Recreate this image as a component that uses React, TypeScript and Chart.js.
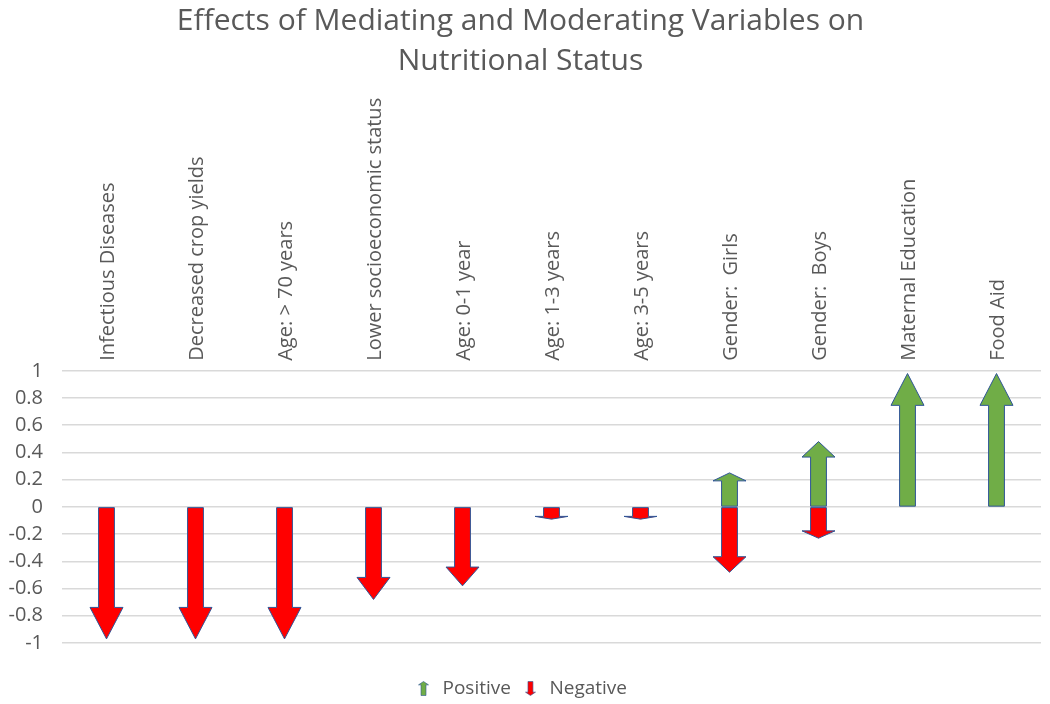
import React, { useEffect, useRef } from "react";
import { Chart, registerables } from "chart.js";

Chart.register(...registerables);

const categories = [
  "Infectious Diseases",
  "Decreased crop yields",
  "Age: > 70 years",
  "Lower socioeconomic status",
  "Age: 0-1 year",
  "Age: 1-3 years",
  "Age: 3-5 years",
  "Gender:  Girls",
  "Gender:  Boys",
  "Maternal Education",
  "Food Aid",
];

const positiveValues = [0, 0, 0, 0, 0, 0, 0, 0.25, 0.48, 0.98, 0.98];
const negativeValues = [-0.97, -0.97, -0.97, -0.68, -0.58, -0.09, -0.09, -0.48, -0.23, 0, 0];

const yTicks = { min: -1, max: 1, step: 0.2 };

const GREEN = "#70AD47";
const RED = "#FF0000";
const OUTLINE = "#2F5597";
const TEXT = "#595959";
const FONT = "'Open Sans', 'Noto Sans', sans-serif";

function arrowPath(ctx: CanvasRenderingContext2D, x: number, base: number, tip: number, shaft: number, headW: number) {
  const len = tip - base;
  const head = len * 0.24;
  const neck = tip - head;
  ctx.beginPath();
  ctx.moveTo(x - shaft / 2, base);
  ctx.lineTo(x + shaft / 2, base);
  ctx.lineTo(x + shaft / 2, neck);
  ctx.lineTo(x + headW / 2, neck);
  ctx.lineTo(x, tip);
  ctx.lineTo(x - headW / 2, neck);
  ctx.lineTo(x - shaft / 2, neck);
  ctx.closePath();
}

function makeIcon(color: string, up: boolean) {
  const c = document.createElement("canvas");
  c.width = 11;
  c.height = 15;
  const ctx = c.getContext("2d")!;
  ctx.fillStyle = color;
  ctx.strokeStyle = OUTLINE;
  ctx.lineWidth = 0.6;
  if (up) arrowPath(ctx, 5.5, 14.5, 0.5, 5, 10);
  else arrowPath(ctx, 5.5, 0.5, 14.5, 5, 10);
  ctx.fill();
  ctx.stroke();
  return c;
}

const arrowPlugin = {
  id: "arrows",
  afterDatasetsDraw(chart: any) {
    const ctx = chart.ctx as CanvasRenderingContext2D;
    chart.data.datasets.forEach((ds: any, di: number) => {
      const meta = chart.getDatasetMeta(di);
      meta.data.forEach((el: any, i: number) => {
        const v = ds.data[i];
        if (!v) return;
        const p = el.getProps(["x", "y", "base", "width"], true);
        ctx.save();
        ctx.fillStyle = ds.arrowColor;
        ctx.strokeStyle = OUTLINE;
        ctx.lineWidth = 1;
        ctx.lineJoin = "miter";
        arrowPath(ctx, p.x, p.base, p.y, p.width * 0.48, p.width);
        ctx.fill();
        ctx.stroke();
        ctx.restore();
      });
    });
  },
};

export default function App() {
  const ref = useRef<HTMLCanvasElement>(null);

  useEffect(() => {
    const icons = [makeIcon(GREEN, true), makeIcon(RED, false)];
    const chart = new Chart(ref.current!, {
      type: "bar",
      data: {
        labels: categories,
        datasets: [
          {
            label: "Positive",
            data: positiveValues,
            backgroundColor: "rgba(0,0,0,0)",
            borderWidth: 0,
            barThickness: 33,
            arrowColor: GREEN,
          } as any,
          {
            label: "Negative",
            data: negativeValues,
            backgroundColor: "rgba(0,0,0,0)",
            borderWidth: 0,
            barThickness: 33,
            arrowColor: RED,
          } as any,
        ],
      },
      options: {
        animation: false,
        responsive: false,
        layout: { padding: { left: 0, right: 9, top: 0, bottom: -4 } },
        plugins: {
          title: {
            display: true,
            text: ["Effects of Mediating and Moderating Variables on", "Nutritional Status"],
            color: TEXT,
            font: { family: FONT, size: 30, weight: "normal", lineHeight: 1.33 },
            padding: { top: 2, bottom: 4 },
          },
          legend: {
            position: "bottom",
            title: { display: true, text: "", font: { size: 16, lineHeight: 1 }, padding: { top: 0, bottom: 10 } },
            labels: {
              usePointStyle: true,
              color: TEXT,
              font: { family: FONT, size: 19 },
              padding: 10,
              generateLabels: () => [
                { text: "Positive", pointStyle: icons[0], fillStyle: GREEN, strokeStyle: OUTLINE, lineWidth: 0, datasetIndex: 0, fontColor: TEXT } as any,
                { text: "Negative", pointStyle: icons[1], fillStyle: RED, strokeStyle: OUTLINE, lineWidth: 0, datasetIndex: 1, fontColor: TEXT } as any,
              ],
            },
          },
          tooltip: { enabled: false },
        },
        scales: {
          x: {
            position: "top",
            stacked: true,
            grid: { display: false },
            border: { display: false },
            ticks: {
              color: TEXT,
              font: { family: FONT, size: 20 },
              minRotation: 90,
              maxRotation: 90,
              autoSkip: false,
              padding: 2,
              labelOffset: 26,
            },
            afterFit: (scale: any) => {
              scale.height = 285;
            },
          },
          y: {
            stacked: true,
            min: yTicks.min,
            max: yTicks.max,
            grid: { color: "#D9D9D9", lineWidth: 1.5, drawTicks: false },
            border: { display: false },
            ticks: {
              stepSize: yTicks.step,
              autoSkip: false,
              color: TEXT,
              font: { family: FONT, size: 20 },
              padding: 19,
              callback: (v: any) => String(Number(Number(v).toFixed(1))),
            },
            afterFit: (scale: any) => {
              scale.width = 62;
            },
          },
        },
      } as any,
      plugins: [arrowPlugin],
    });
    return () => chart.destroy();
  }, []);

  return (
    <div style={{ position: "fixed", left: 0, top: 0, width: 1050, height: 704, background: "#fff" }}>
      <canvas ref={ref} width={1050} height={704} style={{ width: 1050, height: 704 }} />
    </div>
  );
}
